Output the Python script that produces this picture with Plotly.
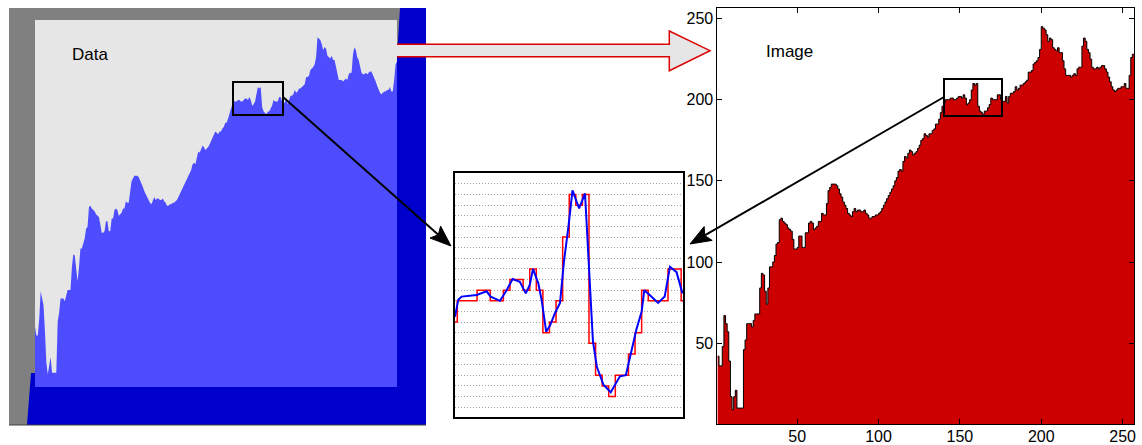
import math
import plotly.graph_objects as go

W, H = 1142, 445

# ---- data (grey levels of the "Image" row, x = 1..256) ----
image_vals = [
    42, 36, 36, 48, 67, 62, 57, 39, 17, 9,
    17, 21, 10, 10, 10, 10, 46, 52, 62, 62,
    62, 60, 64, 68, 68, 68, 84, 93, 92, 82,
    74, 84, 97, 97, 100, 104, 111, 112, 126, 127,
    125, 124, 123, 121, 120, 119, 114, 108, 108, 109,
    116, 116, 109, 109, 118, 118, 124, 125, 124, 120,
    121, 122, 125, 125, 130, 129, 129, 136, 144, 146,
    148, 148, 148, 147, 145, 142, 140, 137, 135, 133,
    130, 129, 128, 131, 133, 131, 132, 132, 131, 131,
    132, 130, 129, 127, 127, 128, 128, 129, 129, 130,
    131, 133, 135, 137, 139, 141, 143, 145, 147, 150,
    152, 156, 157, 156, 162, 165, 164, 167, 169, 168,
    166, 167, 168, 170, 172, 175, 176, 179, 178, 177,
    179, 179, 181, 182, 185, 185, 188, 192, 196, 198,
    200, 200, 200, 201, 201, 200, 200, 201, 202, 202,
    201, 203, 201, 197, 198, 200, 206, 210, 209, 210,
    196, 193, 192, 191, 193, 193, 195, 197, 201, 200,
    200, 200, 203, 203, 200, 199, 199, 202, 198, 202,
    204, 204, 205, 208, 206, 207, 209, 209, 210, 211,
    212, 217, 217, 218, 222, 223, 224, 226, 231, 245,
    244, 243, 240, 236, 238, 237, 232, 231, 230, 232,
    229, 229, 224, 219, 215, 215, 215, 214, 215, 216,
    215, 219, 220, 220, 233, 238, 236, 231, 229, 225,
    220, 219, 219, 220, 219, 220, 221, 221, 219, 217,
    214, 211, 208, 206, 205, 206, 207, 207, 208, 208,
    210, 207, 207, 215, 226, 228,
]
image_x = list(range(1, len(image_vals) + 1))

# zoomed window (quantised values = image values in that window)
zoom_first, zoom_last = 140, 175
zoom_red_x = list(range(zoom_first, zoom_last + 1))
zoom_red_vals = image_vals[zoom_first - 1:zoom_last]

# continuous signal in the zoomed window
zoom_blue_x = [140.65, 141.15, 141.66, 143.94, 145.46, 146.06, 147.48, 148.49, 149.4,
               150.5, 151.4, 152.0, 152.5, 153.3, 153.8, 154.5, 155.1, 155.8, 156.6,
               157.2, 157.9, 158.5, 158.9, 159.5, 160.4, 160.9, 161.6, 162.2, 163.2,
               164.3, 165.0, 165.7, 166.6, 167.2, 168.2, 169.0, 169.4, 170.3, 171.5,
               172.5, 173.3, 174.3, 175.2]
zoom_blue_vals = [198.5, 200.1, 200.4, 200.55, 200.9, 200.4, 200.0, 201.0, 202.05,
                  201.8, 200.7, 201.5, 203.0, 201.65, 200.1, 197.1, 197.7, 198.8, 199.8,
                  203.7, 207.1, 210.4, 209.7, 208.7, 210.1, 204.2, 196.2, 193.8, 192.1,
                  191.4, 192.2, 192.9, 193.0, 194.7, 197.3, 199.0, 201.0, 200.5, 199.8,
                  200.4, 203.2, 202.7, 200.7]

tick_vals = [50, 100, 150, 200, 250]

FONT = "Liberation Sans, Arial, Helvetica, sans-serif"


def X(px):
    return px / W


def Y(py):
    return 1 - py / H


def path(points, close=True):
    s = "M " + " L ".join(f"{X(a):.5f},{Y(b):.5f}" for a, b in points)
    return s + (" Z" if close else "")


fig = go.Figure()

# ---- right panel: "Image" stairs ----
fig.add_trace(go.Scatter(
    x=image_x + [image_x[-1] + 1], y=image_vals + [image_vals[-1]],
    mode="lines", line=dict(shape="hv", color="black", width=1),
    fill="tozeroy", fillcolor="#cc0000", xaxis="x", yaxis="y",
    hoverinfo="skip", showlegend=False))

# ---- middle panel: zoom ----
fig.add_trace(go.Scatter(
    x=zoom_red_x + [zoom_last + 1], y=zoom_red_vals + [zoom_red_vals[-1]],
    mode="lines", line=dict(shape="hv", color="#ff0000", width=1.5),
    xaxis="x2", yaxis="y2", hoverinfo="skip", showlegend=False))
fig.add_trace(go.Scatter(
    x=zoom_blue_x, y=zoom_blue_vals, mode="lines",
    line=dict(color="#0000ff", width=2),
    xaxis="x2", yaxis="y2", hoverinfo="skip", showlegend=False))

# ---- left panel: "Data" area ----
fig.add_trace(go.Scatter(
    x=image_x, y=image_vals, mode="lines",
    line=dict(width=0, color="#4d4dff"), fill="tozeroy", fillcolor="#4d4dff",
    xaxis="x3", yaxis="y3", hoverinfo="skip", showlegend=False))

shapes = []
# left panel backdrop (3D-like slab)
shapes.append(dict(type="rect", xref="paper", yref="paper", x0=X(9), x1=X(400), y0=Y(425), y1=Y(8),
                   fillcolor="#808080", line=dict(width=0), layer="below"))
shapes.append(dict(type="path", xref="paper", yref="paper",
                   path=path([(27, 425), (31, 373), (35, 373), (35, 387), (397, 387), (397, 57),
                              (400, 8), (426, 8), (426, 425)]),
                   fillcolor="#0000cc", line=dict(width=0), layer="below"))
shapes.append(dict(type="rect", xref="paper", yref="paper", x0=X(35), x1=X(397), y0=Y(387), y1=Y(20),
                   fillcolor="#e6e6e6", line=dict(width=0), layer="below"))
shapes.append(dict(type="line", xref="paper", yref="paper", x0=X(9), x1=X(426), y0=Y(425), y1=Y(425),
                   line=dict(color="#404040", width=1), layer="below"))

# big hollow arrow Data -> Image
arrow_pts = [(397, 44.3), (669.3, 44.3), (669.3, 31), (710, 50.7), (669.3, 70.7), (669.3, 56.7),
             (397, 56.7)]
shapes.append(dict(type="path", xref="paper", yref="paper", path=path(arrow_pts),
                   fillcolor="#e6e6e6", line=dict(width=0), layer="above"))
shapes.append(dict(type="path", xref="paper", yref="paper", path=path(arrow_pts, close=False),
                   fillcolor="rgba(0,0,0,0)", line=dict(color="#dd0000", width=1.5), layer="above"))

# zoom boxes
shapes.append(dict(type="rect", xref="paper", yref="paper", x0=X(233), x1=X(283), y0=Y(115), y1=Y(82),
                   line=dict(color="black", width=2), fillcolor="rgba(0,0,0,0)", layer="above"))
shapes.append(dict(type="rect", xref="paper", yref="paper", x0=X(944), x1=X(1002), y0=Y(116), y1=Y(79),
                   line=dict(color="black", width=2), fillcolor="rgba(0,0,0,0)", layer="above"))


def black_arrow(tail, tip, L=21, Wd=8, notch=4):
    dx, dy = tip[0] - tail[0], tip[1] - tail[1]
    n = math.hypot(dx, dy)
    ux, uy = dx / n, dy / n
    px, py = -uy, ux
    base = (tip[0] - ux * L, tip[1] - uy * L)
    c1 = (base[0] + px * Wd, base[1] + py * Wd)
    c2 = (base[0] - px * Wd, base[1] - py * Wd)
    nb = (tip[0] - ux * (L - notch), tip[1] - uy * (L - notch))
    out = [dict(type="line", xref="paper", yref="paper", x0=X(tail[0]), y0=Y(tail[1]),
                x1=X(nb[0]), y1=Y(nb[1]), line=dict(color="black", width=2), layer="above"),
           dict(type="path", xref="paper", yref="paper", path=path([tip, c1, nb, c2]),
                fillcolor="black", line=dict(color="black", width=1), layer="above")]
    return out


shapes += black_arrow((283, 97), (451, 246))
shapes += black_arrow((944, 97), (690, 244))

annotations = [
    dict(text="Data", x=X(89.5), y=Y(55), xref="paper", yref="paper", showarrow=False,
         font=dict(family=FONT, size=17, color="black"), xanchor="center", yanchor="middle"),
    dict(text="Image", x=X(789), y=Y(51), xref="paper", yref="paper", showarrow=False,
         font=dict(family=FONT, size=17, color="black"), xanchor="center", yanchor="middle"),
]

axis_common = dict(showgrid=False, zeroline=False, showline=True, linecolor="black", linewidth=1,
                   mirror="ticks", ticks="inside", ticklen=5, tickwidth=1, tickcolor="black",
                   tickfont=dict(family=FONT, size=16, color="black"), automargin=False)

fig.update_layout(
    width=W, height=H,
    margin=dict(l=0, r=0, t=0, b=0),
    paper_bgcolor="white", plot_bgcolor="rgba(0,0,0,0)",
    showlegend=False,
    xaxis=dict(domain=[X(717.4), X(1134)], range=[1, 257], tickvals=tick_vals, anchor="y",
               ticklabelstandoff=-3, **axis_common),
    yaxis=dict(domain=[Y(424.3), Y(8)], range=[0, 256.5], tickvals=tick_vals, anchor="x",
               **axis_common),
    xaxis2=dict(domain=[X(455), X(683)], range=[140.65, 175.28], anchor="y2",
                showgrid=False, zeroline=False, showticklabels=False, ticks="",
                showline=True, linecolor="black", linewidth=2, mirror=True),
    yaxis2=dict(domain=[Y(416.7), Y(173.3)], range=[189.1, 212.0], anchor="x2",
                tick0=190, dtick=1, showgrid=True, gridcolor="#a0a0a0", griddash="1px,2px",
                gridwidth=1, zeroline=False, showticklabels=False, ticks="",
                showline=True, linecolor="black", linewidth=2, mirror=True),
    xaxis3=dict(domain=[X(35), X(397)], range=[1, 256], anchor="y3", visible=False),
    yaxis3=dict(domain=[Y(387), Y(20)], range=[0, 257], anchor="x3", visible=False),
    shapes=shapes,
    annotations=annotations,
)

fig.write_html(
    "out.html",
    config={"displayModeBar": False},
    post_script="document.body.style.margin='0px';document.body.style.overflow='hidden';",
)
